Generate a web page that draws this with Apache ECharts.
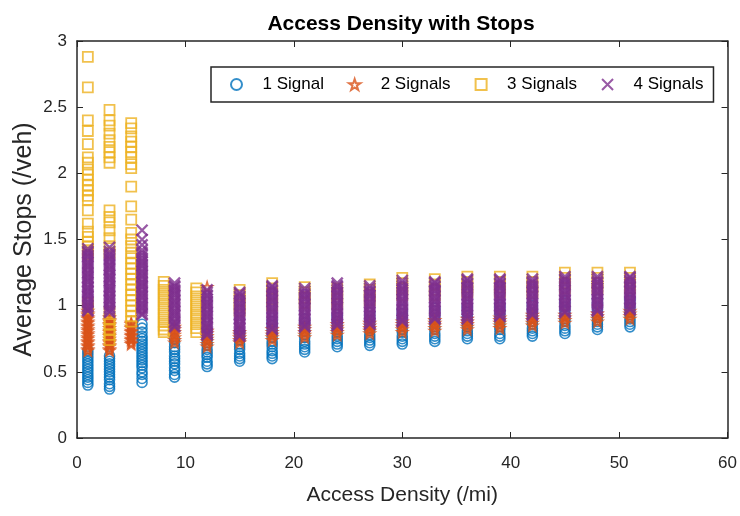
<!DOCTYPE html>
<html>
<head>
<meta charset="utf-8">
<script src="https://cdn.jsdelivr.net/npm/echarts@6/dist/echarts.min.js"></script>
<style>
  html, body { margin: 0; padding: 0; background: #fff; }
  #main { width: 740px; height: 516px; }
</style>
</head>
<body>
<div id="main"></div>
<script>
// access density columns (/mi) and average stops (/veh)
var sig1X = [1, 3, 6, 9, 12, 15, 18, 21, 24, 27, 30, 33, 36, 39, 42, 45, 48, 51];
var sig1Y = [
  [0.40,0.42,0.44,0.46,0.48,0.50,0.52,0.54,0.56,0.58,0.60,0.62,0.64,0.66],
  [0.37,0.39,0.41,0.44,0.46,0.48,0.50,0.52,0.54,0.56,0.58,0.60,0.62],
  [0.42,0.45,0.48,0.50,0.53,0.55,0.57,0.59,0.61,0.63,0.65,0.67,0.69,0.71,0.73,0.75,0.77,0.80,0.83,0.86],
  [0.46,0.48,0.51,0.53,0.56,0.58,0.60,0.62,0.65,0.67,0.69,0.72,0.75],
  [0.54,0.56,0.58,0.61,0.63,0.65,0.67,0.70,0.72,0.75,0.78],
  [0.58,0.60,0.62,0.64,0.67,0.69,0.71,0.74,0.77,0.80],
  [0.60,0.62,0.64,0.66,0.69,0.71,0.73,0.76,0.79,0.82,0.85,0.88],
  [0.65,0.67,0.69,0.71,0.73,0.76,0.78,0.81,0.84,0.87,0.90],
  [0.69,0.71,0.73,0.75,0.77,0.80,0.82,0.85,0.88,0.91,0.93],
  [0.70,0.72,0.74,0.76,0.78,0.81,0.83,0.86,0.89,0.92,0.95],
  [0.71,0.73,0.75,0.77,0.80,0.82,0.85,0.88,0.91,0.94,0.97],
  [0.73,0.75,0.77,0.79,0.82,0.84,0.87,0.90,0.93,0.96,0.98],
  [0.75,0.77,0.79,0.81,0.84,0.86,0.89,0.92,0.95,0.98,1.00],
  [0.75,0.77,0.79,0.82,0.84,0.87,0.90,0.93,0.96,0.99,1.01],
  [0.77,0.79,0.81,0.83,0.86,0.88,0.91,0.94,0.97,1.00,1.02],
  [0.79,0.81,0.83,0.85,0.88,0.90,0.93,0.96,0.99,1.02,1.04],
  [0.82,0.84,0.86,0.88,0.91,0.93,0.96,0.99,1.02,1.05],
  [0.84,0.86,0.88,0.90,0.93,0.95,0.98,1.01,1.04,1.06]
];

var sig2X = [1, 3, 5, 9, 12, 15, 18, 21, 24, 27, 30, 33, 36, 39, 42, 45, 48, 51];
var sig2Y = [
  [0.66,0.67,0.69,0.70,0.72,0.73,0.75,0.76,0.78,0.79,0.81,0.82,0.84,0.85,0.87,0.88,0.90,0.91,0.93,0.94,0.96],
  [0.66,0.67,0.69,0.70,0.72,0.73,0.75,0.77,0.78,0.80,0.81,0.83,0.85,0.86,0.88,0.89,0.91],
  [0.71,0.72,0.74,0.75,0.77,0.78,0.80,0.81,0.83,0.84,0.86,0.87],
  [0.72,0.74,0.76,0.78,0.80,0.82,0.84],
  [0.69,0.71,0.73,0.75,0.77,0.79,0.81,1.14],
  [0.72,0.74,0.76,0.78,0.80],
  [0.74,0.76,0.78,0.80,0.82],
  [0.76,0.78,0.80,0.82,0.84],
  [0.78,0.80,0.82,0.84,0.86],
  [0.79,0.81,0.83,0.85,0.87],
  [0.80,0.82,0.84,0.86,0.88],
  [0.81,0.83,0.85,0.87,0.89],
  [0.82,0.84,0.86,0.88,0.90],
  [0.83,0.85,0.87,0.89,0.91],
  [0.85,0.87,0.89,0.91,0.93],
  [0.87,0.89,0.91,0.93],
  [0.88,0.90,0.92,0.94],
  [0.90,0.92,0.94,0.96]
];

var sig3X = [1, 3, 5, 8, 11, 15, 18, 21, 24, 27, 30, 33, 36, 39, 42, 45, 48, 51];
var sig3Y = [
  [2.88,2.65,2.40,2.32,2.22,2.12,2.08,2.03,1.99,1.95,1.91,1.87,1.83,1.80,1.72,1.62,1.56,1.52,1.48,1.45,1.42,1.39,1.02,0.98],
  [2.48,2.40,2.36,2.30,2.25,2.20,2.16,2.12,2.08,1.72,1.67,1.63,1.57,1.51,1.45,1.40,0.95,0.90,0.86,0.82,0.78,0.74],
  [2.38,2.34,2.28,2.24,2.20,2.16,2.12,2.07,2.04,1.90,1.75,1.65,1.55,1.50,1.45,1.40,1.36,1.32,1.28,1.24,1.20,1.16,1.12,1.08,1.04,1.00,0.96,0.92,0.88],
  [1.18,1.15,1.12,1.09,1.06,1.03,1.00,0.97,0.94,0.91,0.88,0.85,0.82,0.80],
  [1.13,1.10,1.07,1.04,1.01,0.98,0.95,0.92,0.89,0.86,0.83,0.80],
  [1.12,1.08,1.04,1.00,0.96],
  [1.17,1.13,1.09,1.05,1.00],
  [1.14,1.10,1.06,1.02],
  [1.13,1.09,1.05,1.01],
  [1.16,1.12,1.08,1.04],
  [1.21,1.17,1.13,1.08],
  [1.20,1.16,1.12,1.08],
  [1.22,1.18,1.14,1.10],
  [1.22,1.18,1.14,1.10],
  [1.22,1.18,1.14,1.10],
  [1.25,1.21,1.17,1.13],
  [1.25,1.21,1.17,1.13],
  [1.25,1.21,1.17,1.13]
];

var sig4X = [1, 3, 6, 9, 12, 15, 18, 21, 24, 27, 30, 33, 36, 39, 42, 45, 48, 51];
var sig4Y = [
  [0.96,0.97,0.99,1.00,1.02,1.03,1.05,1.07,1.08,1.10,1.11,1.13,1.14,1.16,1.18,1.19,1.21,1.22,1.24,1.25,1.27,1.29,1.30,1.32,1.33,1.35,1.37,1.38,1.40,1.41,1.43],
  [0.95,0.96,0.98,0.99,1.01,1.03,1.04,1.06,1.07,1.09,1.11,1.12,1.14,1.15,1.17,1.19,1.20,1.22,1.23,1.25,1.27,1.28,1.30,1.31,1.33,1.35,1.36,1.38,1.39,1.41,1.44],
  [0.93,0.94,0.96,0.98,0.99,1.01,1.02,1.04,1.06,1.07,1.09,1.10,1.12,1.14,1.15,1.17,1.18,1.20,1.22,1.23,1.25,1.26,1.28,1.30,1.31,1.33,1.34,1.36,1.38,1.40,1.42,1.46,1.50,1.57],
  [0.84,0.85,0.87,0.88,0.90,0.92,0.93,0.95,0.96,0.98,1.00,1.01,1.03,1.04,1.06,1.08,1.09,1.11,1.12,1.14,1.15,1.17],
  [0.78,0.79,0.81,0.83,0.84,0.86,0.87,0.89,0.91,0.92,0.94,0.95,0.97,0.99,1.00,1.02,1.03,1.05,1.07,1.08,1.10,1.12],
  [0.77,0.78,0.80,0.82,0.83,0.85,0.86,0.88,0.90,0.91,0.93,0.94,0.96,0.98,0.99,1.01,1.02,1.04,1.06,1.07,1.09,1.10],
  [0.82,0.83,0.85,0.87,0.88,0.90,0.91,0.93,0.95,0.96,0.98,0.99,1.01,1.03,1.04,1.06,1.07,1.09,1.11,1.12,1.14,1.15],
  [0.84,0.85,0.87,0.89,0.90,0.92,0.93,0.95,0.97,0.98,1.00,1.01,1.03,1.05,1.06,1.08,1.09,1.11,1.13],
  [0.85,0.86,0.88,0.90,0.91,0.93,0.94,0.96,0.98,0.99,1.01,1.02,1.04,1.06,1.07,1.09,1.10,1.12,1.14,1.15,1.17],
  [0.86,0.87,0.89,0.91,0.92,0.94,0.95,0.97,0.99,1.00,1.02,1.03,1.05,1.07,1.08,1.10,1.11,1.13,1.15],
  [0.88,0.89,0.91,0.93,0.94,0.96,0.97,0.99,1.01,1.02,1.04,1.05,1.07,1.09,1.10,1.12,1.13,1.15,1.17,1.19],
  [0.90,0.91,0.93,0.95,0.96,0.98,0.99,1.01,1.03,1.04,1.06,1.07,1.09,1.11,1.12,1.14,1.15,1.17,1.18],
  [0.90,0.92,0.93,0.95,0.97,0.98,1.00,1.01,1.03,1.05,1.06,1.08,1.09,1.11,1.13,1.14,1.16,1.17,1.19,1.20],
  [0.92,0.93,0.95,0.97,0.98,1.00,1.01,1.03,1.05,1.06,1.08,1.09,1.11,1.13,1.14,1.16,1.17,1.19,1.20],
  [0.93,0.94,0.96,0.98,0.99,1.01,1.02,1.04,1.06,1.07,1.09,1.10,1.12,1.14,1.15,1.17,1.18,1.20],
  [0.95,0.96,0.98,1.00,1.01,1.03,1.04,1.06,1.08,1.09,1.11,1.12,1.14,1.16,1.17,1.19,1.20,1.22],
  [0.96,0.97,0.99,1.01,1.02,1.04,1.05,1.07,1.09,1.10,1.12,1.13,1.15,1.17,1.18,1.20,1.22],
  [0.97,0.98,1.00,1.02,1.03,1.05,1.06,1.08,1.10,1.11,1.13,1.14,1.16,1.18,1.19,1.21,1.22]
];

var names = ['1 Signal', '2 Signals', '3 Signals', '4 Signals'];
var xTicks = { min: 0, max: 60, interval: 10 };
var yTicks = { min: 0, max: 3, interval: 0.5 };

function pts(xs, ys) {
  var out = [];
  for (var i = 0; i < xs.length; i++) {
    for (var j = 0; j < ys[i].length; j++) out.push([xs[i], ys[i][j]]);
  }
  return out;
}

var FONT = 'Liberation Sans, Arial, sans-serif';
var INK = '#262626';
var STAR = 'path://M50,2L61,36L97,36L68,57L79,92L50,71L21,92L32,57L3,36L39,36Z';
var SQUARE = 'path://M0,0L10,0L10,10L0,10Z';
var CROSS = 'path://M0,0L10,10M10,0L0,10';

function hollow(color, w) {
  return { color: 'rgba(0,0,0,0)', borderColor: color, borderWidth: w };
}

var ch = echarts.init(document.getElementById('main'), null, { renderer: 'canvas' });

var op = {
  animation: false,
  textStyle: { fontFamily: FONT },
  title: {
    text: 'Access Density with Stops',
    left: 396,
    textAlign: 'center',
    top: 9,
    textStyle: { fontSize: 21, fontWeight: 'bold', color: '#000', fontFamily: FONT }
  },
  legend: {
    data: names,
    left: 211,
    top: 67,
    padding: [9, 10, 9, 19],
    itemGap: 24,
    itemWidth: 30,
    itemHeight: 11,
    borderColor: INK,
    borderWidth: 1.5,
    backgroundColor: '#fff',
    textStyle: { fontSize: 17, color: '#000', padding: [0, 0, 0, 6], fontFamily: FONT }
  },
  grid: { left: 77, right: 11, top: 41, bottom: 78 },
  xAxis: [{
    type: 'value',
    min: xTicks.min, max: xTicks.max, interval: xTicks.interval,
    name: 'Access Density (/mi)',
    nameLocation: 'middle',
    nameGap: 47,
    nameTextStyle: { fontSize: 21, color: INK, fontFamily: FONT },
    axisLine: { onZero: false, lineStyle: { color: INK, width: 1.5 } },
    axisTick: { inside: true, length: 6, lineStyle: { color: INK } },
    axisLabel: { fontSize: 17, color: INK, margin: 17, fontFamily: FONT },
    splitLine: { show: false }
  }, {
    type: 'value', position: 'top',
    min: xTicks.min, max: xTicks.max, interval: xTicks.interval,
    axisLine: { onZero: false, lineStyle: { color: INK, width: 1.5 } },
    axisTick: { inside: true, length: 6, lineStyle: { color: INK } },
    axisLabel: { show: false },
    splitLine: { show: false }
  }],
  yAxis: [{
    type: 'value',
    min: yTicks.min, max: yTicks.max, interval: yTicks.interval,
    name: 'Average Stops (/veh)',
    nameLocation: 'middle',
    nameMoveOverlap: false,
    nameGap: 40,
    nameTextStyle: { fontSize: 25, color: INK, fontFamily: FONT },
    axisLine: { show: true, onZero: false, lineStyle: { color: INK, width: 1.5 } },
    axisTick: { show: true, inside: true, length: 6, lineStyle: { color: INK } },
    axisLabel: { fontSize: 17, color: INK, margin: 10, fontFamily: FONT },
    splitLine: { show: false }
  }, {
    type: 'value', position: 'right',
    min: yTicks.min, max: yTicks.max, interval: yTicks.interval,
    axisLine: { show: true, onZero: false, lineStyle: { color: INK, width: 1.5 } },
    axisTick: { show: true, inside: true, length: 6, lineStyle: { color: INK } },
    axisLabel: { show: false },
    splitLine: { show: false }
  }],
  series: [{
    name: names[0], type: 'scatter', symbol: 'circle', symbolSize: 10,
    itemStyle: hollow('#0072BD', 1.6),
    data: pts(sig1X, sig1Y)
  }, {
    name: names[1], type: 'scatter', symbol: STAR, symbolSize: 10,
    itemStyle: hollow('#D95319', 1.8),
    data: pts(sig2X, sig2Y)
  }, {
    name: names[2], type: 'scatter', symbol: SQUARE, symbolSize: 10,
    itemStyle: hollow('#EDB120', 1.8),
    data: pts(sig3X, sig3Y)
  }, {
    name: names[3], type: 'scatter', symbol: CROSS, symbolSize: 11,
    itemStyle: hollow('#7E2F8E', 2.4),
    data: pts(sig4X, sig4Y)
  }]
};

ch.setOption(op);
</script>
</body>
</html>
